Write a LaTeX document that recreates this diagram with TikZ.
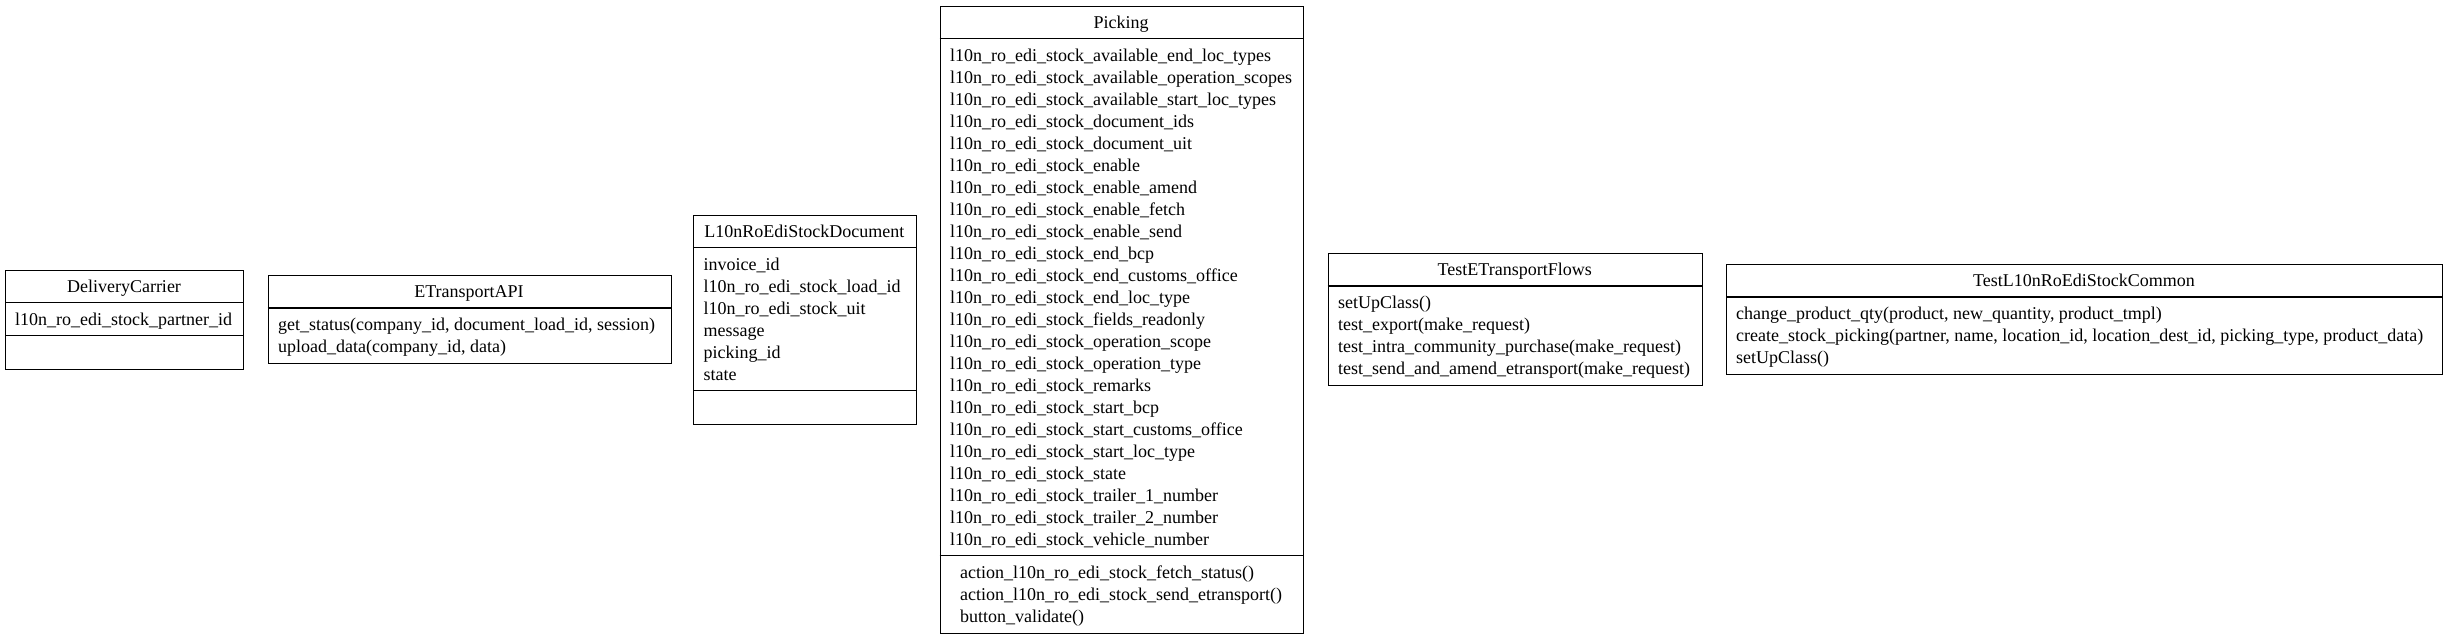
\documentclass[tikz,border=0pt]{standalone}
\usepackage{fontspec}
\setmainfont{Liberation Serif}
\begin{document}
\begin{tikzpicture}[x=1pt,y=-1pt,
  box/.style={draw, line width=1.2pt, inner sep=0pt, anchor=north west},
  sep/.style={line width=1.2pt},
  ttl/.style={font=\fontsize{18}{22}\selectfont, inner sep=0pt, anchor=base},
  txt/.style={font=\fontsize{18}{22}\selectfont, inner sep=0pt, anchor=base west}]
\useasboundingbox (0,0) rectangle (2447,638);

% DeliveryCarrier
\node[box, minimum width=238pt, minimum height=99pt] (dc) at (5,269.5) {};
\draw[sep] (5,302.5) -- (243,302.5);
\draw[sep] (5,335.5) -- (243,335.5);
\node[ttl] (dct) at (124,292) {DeliveryCarrier};
\node[txt] (dca1) at (15,325) {l10n\_ro\_edi\_stock\_partner\_id};

% ETransportAPI
\node[box, minimum width=403pt, minimum height=88pt] (eta) at (267.5,275) {};
\draw[sep] (267.5,308) -- (670.5,308);
\node[ttl] (etat) at (469,297.5) {ETransportAPI};
\node[txt] (etam1) at (278,330.5) {get\_status(company\_id, document\_load\_id, session)};
\node[txt] (etam2) at (278,352.5) {upload\_data(company\_id, data)};

% L10nRoEdiStockDocument
\node[box, minimum width=222.5pt, minimum height=209pt] (doc) at (693,214.5) {};
\draw[sep] (693,247.5) -- (915.5,247.5);
\draw[sep] (693,390.5) -- (915.5,390.5);
\node[ttl] (doct) at (804.25,237) {L10nRoEdiStockDocument};
\foreach \t [count=\i from 0] in {invoice\_id, l10n\_ro\_edi\_stock\_load\_id, l10n\_ro\_edi\_stock\_uit, message, picking\_id, state}
  \node[txt] (doca\i) at (703.5,270+22*\i) {\t};

% Picking
\node[box, minimum width=363pt, minimum height=627pt] (pk) at (939.5,5.5) {};
\draw[sep] (939.5,38.5) -- (1302.5,38.5);
\draw[sep] (939.5,555.5) -- (1302.5,555.5);
\node[ttl] (pkt) at (1121,28) {Picking};
\foreach \t [count=\i from 0] in {
  l10n\_ro\_edi\_stock\_available\_end\_loc\_types,
  l10n\_ro\_edi\_stock\_available\_operation\_scopes,
  l10n\_ro\_edi\_stock\_available\_start\_loc\_types,
  l10n\_ro\_edi\_stock\_document\_ids,
  l10n\_ro\_edi\_stock\_document\_uit,
  l10n\_ro\_edi\_stock\_enable,
  l10n\_ro\_edi\_stock\_enable\_amend,
  l10n\_ro\_edi\_stock\_enable\_fetch,
  l10n\_ro\_edi\_stock\_enable\_send,
  l10n\_ro\_edi\_stock\_end\_bcp,
  l10n\_ro\_edi\_stock\_end\_customs\_office,
  l10n\_ro\_edi\_stock\_end\_loc\_type,
  l10n\_ro\_edi\_stock\_fields\_readonly,
  l10n\_ro\_edi\_stock\_operation\_scope,
  l10n\_ro\_edi\_stock\_operation\_type,
  l10n\_ro\_edi\_stock\_remarks,
  l10n\_ro\_edi\_stock\_start\_bcp,
  l10n\_ro\_edi\_stock\_start\_customs\_office,
  l10n\_ro\_edi\_stock\_start\_loc\_type,
  l10n\_ro\_edi\_stock\_state,
  l10n\_ro\_edi\_stock\_trailer\_1\_number,
  l10n\_ro\_edi\_stock\_trailer\_2\_number,
  l10n\_ro\_edi\_stock\_vehicle\_number}
  \node[txt] (pka\i) at (950,61+22*\i) {\t};
\node[txt] (pkm1) at (960,578) {action\_l10n\_ro\_edi\_stock\_fetch\_status()};
\node[txt] (pkm2) at (960,600) {action\_l10n\_ro\_edi\_stock\_send\_etransport()};
\node[txt] (pkm3) at (960,622) {button\_validate()};

% TestETransportFlows
\node[box, minimum width=374.5pt, minimum height=132pt] (tef) at (1327.5,253) {};
\draw[sep] (1327.5,286) -- (1702,286);
\node[ttl] (teft) at (1514.75,275.5) {TestETransportFlows};
\node[txt] (tefm1) at (1338,308.5) {setUpClass()};
\node[txt] (tefm2) at (1338,330.5) {test\_export(make\_request)};
\node[txt] (tefm3) at (1338,352.5) {test\_intra\_community\_purchase(make\_request)};
\node[txt] (tefm4) at (1338,374.5) {test\_send\_and\_amend\_etransport(make\_request)};

% TestL10nRoEdiStockCommon
\node[box, minimum width=716pt, minimum height=110pt] (tc) at (1726,264) {};
\draw[sep] (1726,297) -- (2442,297);
\node[ttl] (tct) at (2084,286.5) {TestL10nRoEdiStockCommon};
\node[txt] (tcm1) at (1736,319.5) {change\_product\_qty(product, new\_quantity, product\_tmpl)};
\node[txt] (tcm2) at (1736,341.5) {create\_stock\_picking(partner, name, location\_id, location\_dest\_id, picking\_type, product\_data)};
\node[txt] (tcm3) at (1736,363.5) {setUpClass()};
\end{tikzpicture}
\end{document}
